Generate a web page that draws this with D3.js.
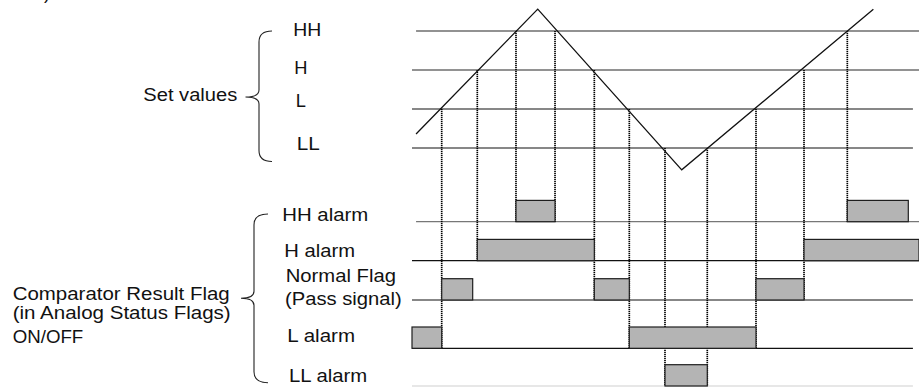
<!DOCTYPE html>
<html>
<head>
<meta charset="utf-8">
<script src="https://cdn.jsdelivr.net/npm/d3@7/dist/d3.min.js"></script>
<style>
  html, body { margin: 0; padding: 0; background: #fff; }
  svg { display: block; }
  text { font-family: "Liberation Sans", Arial, Helvetica, sans-serif; fill: #111; }
</style>
</head>
<body>
<svg id="chart" width="919" height="387"></svg>
<script>
// ---- Set values (comparison levels) ----
const levelNames = ["HH", "H", "L", "LL"];
const levelValues = [4, 3, 2, 1];

// ---- Analog input waveform (time, value) ----
const waveTimes = [0.8, 24.8, 53.2, 91.0];
const waveValues = [1.36, 4.56, 0.44, 4.56];

// ---- Times where the input crosses a set value ----
// level: index into levelNames, lowestRow: deepest flag row whose edge falls at this time
const crossTimes  = [5.86, 12.88, 20.51, 28.21, 35.96, 42.86, 49.90, 58.24, 67.85, 77.32, 85.86];
const crossLevels = [2, 1, 0, 0, 1, 2, 3, 3, 2, 1, 0];
const crossLowestRow = [3, 1, 0, 0, 2, 3, 4, 4, 3, 2, 0];

// ---- Comparator result flags: ON intervals per row ----
const flagNames = ["HH alarm", "H alarm", "Normal Flag", "L alarm", "LL alarm"];
const hhAlarmOn = [[20.51, 28.21], [85.86, 97.89]];
const hAlarmOn = [[12.88, 35.96], [77.32, 100]];
const normalOn = [[5.86, 11.97], [35.96, 42.86], [67.85, 77.32]];
const lAlarmOn = [[0, 5.86], [42.86, 67.85]];
const llAlarmOn = [[49.90, 58.24]];
const flagIntervals = [hhAlarmOn, hAlarmOn, normalOn, lAlarmOn, llAlarmOn];

const svg = d3.select("#chart");

// Scales
const x = d3.scaleLinear().domain([0, 100]).range([412, 919]);
const y = d3.scaleLinear().domain([1, 4]).range([148, 31]);

// Flag rows: baseline position and ON-level height
const rowBase = [221.7, 260.7, 300, 348.3, 386];
const onHeight = 21.3;

// Extents and tones of the horizontal reference lines
const levelLineEnd = [100, 100, 98.8, 98.8];
const levelLineStart = [0.8, 0, 0, 0];
const levelLineColor = ["#6e6e6e", "#6e6e6e", "#111", "#111"];
const rowLineStart = [0.8, 0, 0, 0, 0];
const rowLineEnd = [100, 100, 98.8, 98.8, 98.8];
const rowLineColor = ["#777", "#111", "#111", "#111", "#cfcfcf"];

// Set value lines
svg.append("g").selectAll("line")
  .data(levelValues)
  .join("line")
  .attr("x1", (d, i) => x(levelLineStart[i]))
  .attr("x2", (d, i) => x(levelLineEnd[i]))
  .attr("y1", d => y(d))
  .attr("y2", d => y(d))
  .attr("stroke", (d, i) => levelLineColor[i])
  .attr("stroke-width", (d, i) => i < 2 ? 1.4 : 1.1);

// Flag row baselines
svg.append("g").selectAll("line")
  .data(rowBase)
  .join("line")
  .attr("x1", (d, i) => x(rowLineStart[i]))
  .attr("x2", (d, i) => x(rowLineEnd[i]))
  .attr("y1", d => d)
  .attr("y2", d => d)
  .attr("stroke", (d, i) => rowLineColor[i])
  .attr("stroke-width", 1.2);

// Dotted projection lines from each crossing down to the flag rows
svg.append("g").selectAll("line")
  .data(crossTimes)
  .join("line")
  .attr("x1", d => x(d))
  .attr("x2", d => x(d))
  .attr("y1", (d, i) => y(levelValues[crossLevels[i]]))
  .attr("y2", (d, i) => rowBase[crossLowestRow[i]])
  .attr("stroke", "#000")
  .attr("stroke-width", 1.7)
  .attr("stroke-dasharray", "1.2,0.8");

// ON intervals as grey boxes
const flagData = flagIntervals.flatMap((iv, row) => iv.map(([s, e]) => ({ row, s, e })));
svg.append("g").selectAll("rect")
  .data(flagData)
  .join("rect")
  .attr("x", d => x(d.s))
  .attr("y", d => rowBase[d.row] - onHeight)
  .attr("width", d => x(d.e) - x(d.s))
  .attr("height", onHeight)
  .attr("fill", "#b4b4b4")
  .attr("stroke", "#1e1e1e")
  .attr("stroke-width", 1.2);

// Input waveform
const wave = waveTimes.map((t, i) => [t, waveValues[i]]);
svg.append("path")
  .datum(wave)
  .attr("d", d3.line().x(d => x(d[0])).y(d => y(d[1])))
  .attr("fill", "none")
  .attr("stroke", "#111")
  .attr("stroke-width", 1.3);

// Curly brace opening to the left
function brace(tipX, spineX, pointX, top, mid, bottom) {
  const r = 11, m = 7;
  return `M${tipX},${top} Q${spineX},${top} ${spineX},${top + r}` +
    ` L${spineX},${mid - m} Q${spineX},${mid} ${pointX},${mid}` +
    ` Q${spineX},${mid} ${spineX},${mid + m}` +
    ` L${spineX},${bottom - r} Q${spineX},${bottom} ${tipX},${bottom}`;
}
svg.append("path")
  .attr("d", brace(272, 259, 245.5, 31, 97, 161.5))
  .attr("fill", "none").attr("stroke", "#222").attr("stroke-width", 1.1);
svg.append("path")
  .attr("d", brace(268, 254, 241, 214, 298.3, 382.7))
  .attr("fill", "none").attr("stroke", "#222").attr("stroke-width", 1.1);

// Labels
const labels = [
  { t: "Set values", x: 143.3, y: 101, w: 94 },
  { t: levelNames[0], x: 293.3, y: 36, w: 28 },
  { t: levelNames[1], x: 294.3, y: 73.5 },
  { t: levelNames[2], x: 295.7, y: 107 },
  { t: levelNames[3], x: 296.7, y: 150, w: 23 },
  { t: flagNames[0], x: 282.3, y: 221, w: 86 },
  { t: flagNames[1], x: 284.3, y: 256.7, w: 70.7 },
  { t: flagNames[2], x: 285.7, y: 281.7, w: 110.3 },
  { t: "(Pass signal)", x: 285, y: 305, w: 116.7 },
  { t: flagNames[3], x: 287.3, y: 342.3, w: 67.7 },
  { t: flagNames[4], x: 289, y: 381.7, w: 78.3 },
  { t: "Comparator Result Flag", x: 12.7, y: 300, w: 217 },
  { t: "(in Analog Status Flags)", x: 12.7, y: 319.3, w: 218 },
  { t: "ON/OFF", x: 12.7, y: 342.7, w: 70.6 }
];
svg.append("g").selectAll("text")
  .data(labels)
  .join("text")
  .attr("x", d => d.x)
  .attr("y", d => d.y)
  .attr("font-size", 18.3)
  .each(function (d) {
    if (d.w) d3.select(this).attr("textLength", d.w).attr("lengthAdjust", "spacingAndGlyphs");
  })
  .text(d => d.t);

// Figure tag running off the top edge
svg.append("text")
  .attr("x", 50).attr("y", -1)
  .attr("text-anchor", "end")
  .attr("font-size", 18)
  .text("b)");
</script>
</body>
</html>
